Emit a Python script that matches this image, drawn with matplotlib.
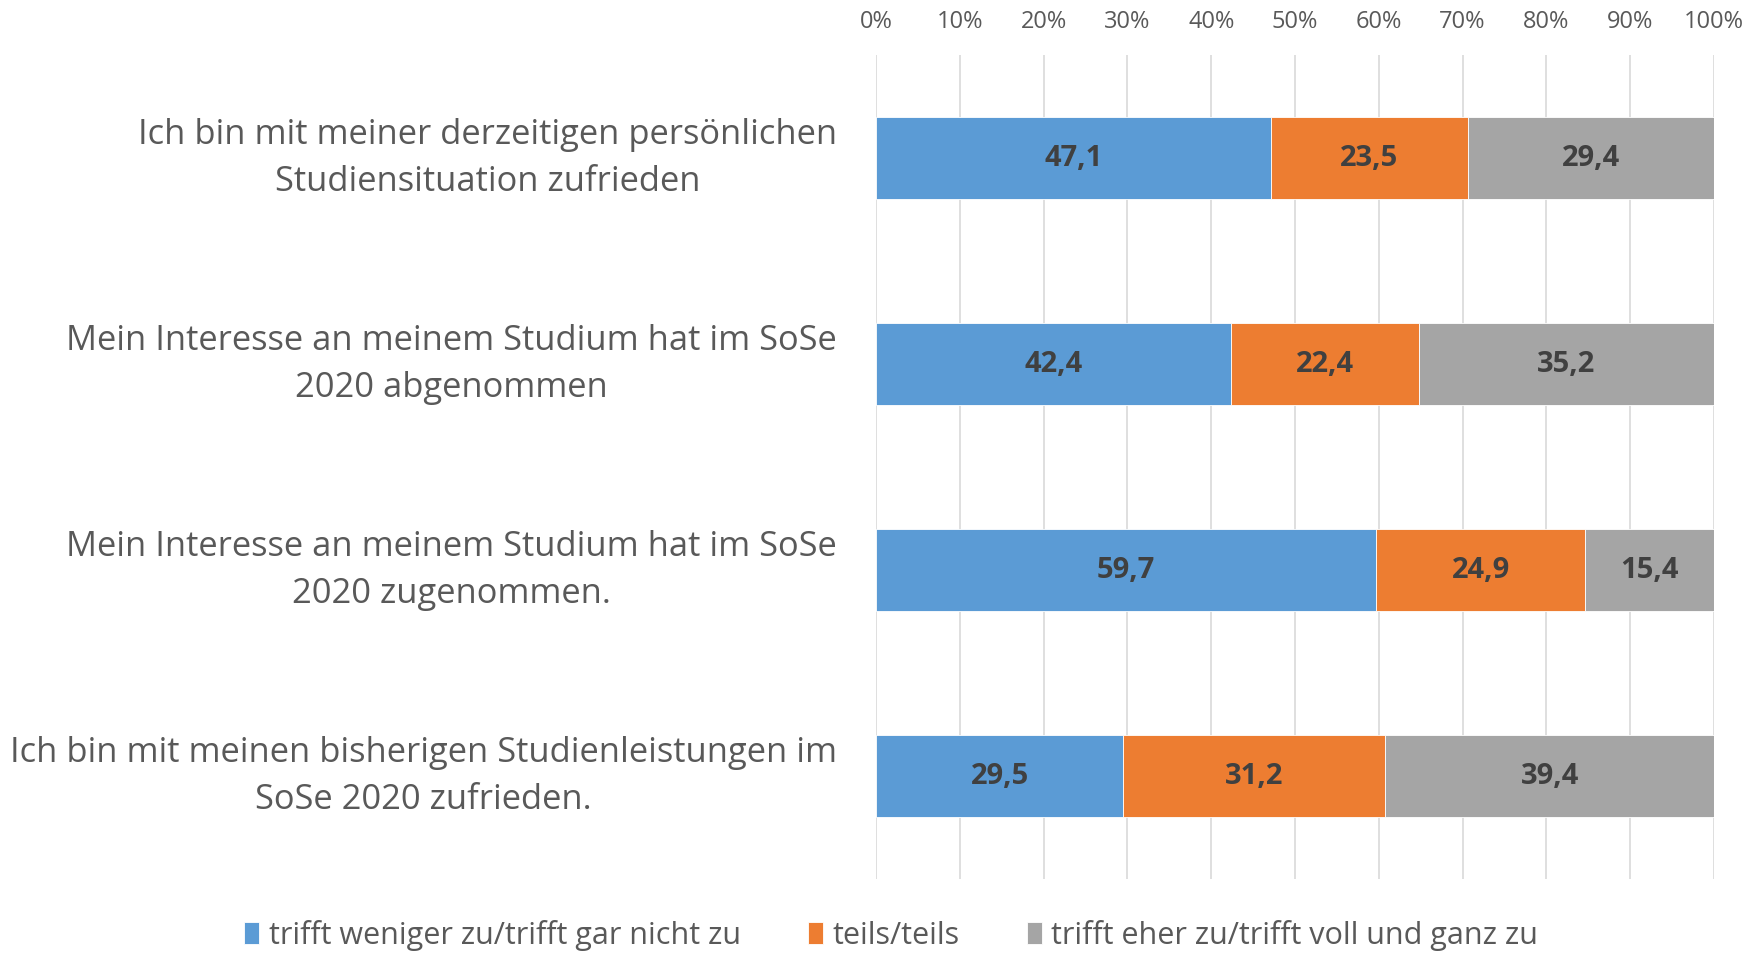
import matplotlib.pyplot as plt
import numpy as np
from matplotlib.ticker import FuncFormatter
from matplotlib.transforms import ScaledTranslation

plt.rcParams['font.family'] = ['Open Sans', 'DejaVu Sans']

categories = [
    'Ich bin mit meiner derzeitigen persönlichen\nStudiensituation zufrieden',
    'Mein Interesse an meinem Studium hat im SoSe\n2020 abgenommen',
    'Mein Interesse an meinem Studium hat im SoSe\n2020 zugenommen.',
    'Ich bin mit meinen bisherigen Studienleistungen im\nSoSe 2020 zufrieden.',
]
series_names = ['trifft weniger zu/trifft gar nicht zu', 'teils/teils',
                'trifft eher zu/trifft voll und ganz zu']
weniger = [47.1, 42.4, 59.7, 29.5]
teils = [23.5, 22.4, 24.9, 31.2]
eher = [29.4, 35.2, 15.4, 39.4]

colors = ['#5B9BD5', '#ED7D31', '#A5A5A5']
text_grey = '#595959'

fig = plt.figure(figsize=(17.47, 9.54), dpi=100)
ax = fig.add_axes([876 / 1747, 1 - 880 / 954, (1714 - 876) / 1747, (880 - 56) / 954])

y = np.arange(len(categories))
left = np.zeros(len(categories))
for name, vals, c in zip(series_names, [weniger, teils, eher], colors):
    vals = np.array(vals)
    ax.barh(y, vals, height=0.4, left=left, color=c, label=name, zorder=2,
            edgecolor='white', linewidth=0.6)
    for yi, l, v in zip(y, left, vals):
        ax.text(l + v / 2, yi, f'{v:.1f}'.replace('.', ','), ha='center', va='center',
                fontsize=21, fontweight='bold', color='#404040', zorder=3)
    left = left + vals

ax.set_ylim(len(categories) - 0.5, -0.5)
ax.set_xlim(0, 100)
ax.set_xticks(np.arange(0, 101, 10))
ax.xaxis.set_major_formatter(FuncFormatter(lambda x, pos: f'{x:.0f}%'))
ax.xaxis.tick_top()
ax.tick_params(axis='x', length=0, pad=16, labelsize=17, labelcolor=text_grey)
ax.set_yticks(y)
ax.set_yticklabels(categories, fontsize=24.8, color=text_grey, multialignment='center',
                   linespacing=1.5)
ax.tick_params(axis='y', length=0, pad=28)
# category text sits a little above the bar centre
for lab in ax.get_yticklabels():
    lab.set_transform(lab.get_transform() + ScaledTranslation(0, 0.11, fig.dpi_scale_trans))
ax.grid(axis='x', color='#D9D9D9', linewidth=1.2, zorder=1)
for s in ax.spines.values():
    s.set_visible(False)

fig.legend(loc='center', bbox_to_anchor=(0.51, 1 - 936 / 954), ncol=3, frameon=False,
           fontsize=22, handlelength=0.5, handleheight=0.7, handletextpad=0.3,
           columnspacing=2.2, labelcolor=text_grey)

fig.savefig('out.png', dpi=100)
